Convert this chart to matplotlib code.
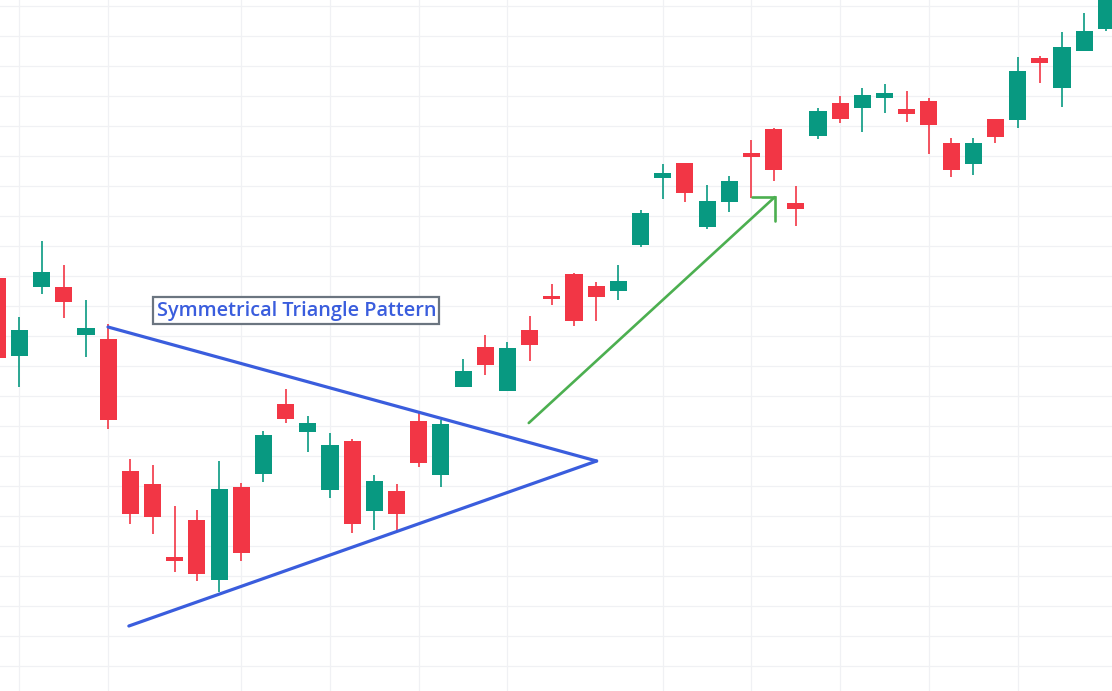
import matplotlib
matplotlib.use("Agg")
import matplotlib.pyplot as plt
import numpy as np

# Candle data (index, open, high, low, close)
idx = list(range(-1, 50))
opens = [139.3, 113.3, 136.3, 136.3, 120.3, 119.0, 75.0, 70.7, 46.3, 58.7,
         38.7, 69.7, 74.0, 97.3, 88.0, 68.7, 85.0, 61.7, 68.3, 91.7,
         73.7, 103.0, 116.3, 101.7, 122.0, 133.3, 140.7, 136.7, 135.0, 150.3,
         172.7, 177.7, 156.3, 164.7, 181.0, 189.0, 164.3, 186.7, 197.7, 196.0,
         199.3, 195.7, 198.3, 184.3, 177.3, 192.3, 192.0, 212.7, 202.7, 215.0,
         222.3]
highs = [139.3, 126.3, 151.7, 143.7, 132.0, 124.0, 79.0, 77.0, 63.3, 62.0,
         78.3, 71.0, 88.3, 102.3, 93.3, 87.7, 85.7, 73.7, 70.7, 94.3,
         92.0, 112.3, 120.3, 118.0, 126.7, 137.3, 141.0, 138.0, 143.7, 162.0,
         177.3, 177.7, 170.3, 173.3, 185.3, 189.3, 170.0, 196.0, 200.0, 202.7,
         204.0, 201.7, 199.3, 186.0, 186.0, 192.3, 213.0, 213.3, 221.3, 227.7,
         238.0]
lows = [112.7, 103.0, 134.0, 126.0, 113.0, 89.0, 57.3, 54.0, 41.3, 38.3,
        34.7, 45.0, 71.3, 91.0, 81.3, 66.0, 54.3, 55.3, 55.0, 76.3,
        69.7, 103.0, 107.0, 101.7, 111.7, 130.3, 123.3, 125.0, 132.0, 149.7,
        165.7, 164.7, 155.7, 161.3, 166.0, 171.7, 156.7, 185.7, 191.0, 188.0,
        194.3, 191.3, 180.7, 173.0, 173.7, 184.3, 189.3, 204.3, 196.3, 215.0,
        221.7]
closes = [112.7, 122.0, 141.3, 131.3, 122.7, 92.0, 60.7, 59.7, 45.0, 40.7,
          69.0, 47.7, 87.0, 92.3, 91.0, 83.7, 57.3, 71.7, 60.7, 77.7,
          90.7, 108.3, 110.3, 116.0, 117.0, 132.3, 125.0, 133.0, 138.3, 161.0,
          174.3, 167.7, 165.0, 171.7, 179.7, 175.3, 162.3, 195.0, 192.3, 200.3,
          201.0, 194.0, 190.3, 175.3, 184.3, 186.3, 208.3, 211.0, 216.3, 221.7,
          235.0]

# Grid positions
vgrid_idx = [0, 4, 10, 14, 18, 22, 29, 33, 37, 41, 45]
hgrid_vals = list(range(10, 240, 10))

# Pattern annotation points
tri_upper_x = [3.99, 26.02]
tri_upper_y = [123.0, 78.33]
tri_lower_x = [4.93, 26.02]
tri_lower_y = [23.33, 78.33]
arrow_x = [22.96, 34.05]
arrow_y = [91.0, 166.3]
arrow_head_x = [33.01, 34.05, 34.05]
arrow_head_y = [166.3, 166.3, 158.3]
label_text = "Symmetrical Triangle Pattern"
label_pos = (12.48, 128.5)

UP = "#089981"
DOWN = "#f23645"

fig = plt.figure(figsize=(11.12, 6.91), dpi=100)
ax = fig.add_axes([0, 0, 1, 1])
ax.set_xlim(-0.879, 49.255)
ax.set_ylim(1.667, 232.0)
for s in ax.spines.values():
    s.set_visible(False)
ax.set_xticks([])
ax.set_yticks([])

for v in hgrid_vals:
    ax.axhline(v, color="#f0f1f4", lw=0.9, zorder=0)
for v in vgrid_idx:
    ax.axvline(v, color="#f0f1f4", lw=0.9, zorder=0)

bw = 0.77
for i, o, h, l, c in zip(idx, opens, highs, lows, closes):
    col = UP if c >= o else DOWN
    ax.vlines(i, l, h, color=col, lw=1.2, zorder=2)
    lo, hi = min(o, c), max(o, c)
    ax.bar(i, max(hi - lo, 0.4), bottom=lo, width=bw, color=col,
           edgecolor=col, linewidth=0, zorder=3)

ax.plot(tri_upper_x, tri_upper_y, color="#3a5ddd", lw=2.3, zorder=4,
        solid_capstyle="round")
ax.plot(tri_lower_x, tri_lower_y, color="#3a5ddd", lw=2.3, zorder=4,
        solid_capstyle="round")
ax.plot(arrow_x, arrow_y, color="#4caf50", lw=1.9, zorder=4,
        solid_capstyle="round")
ax.plot(arrow_head_x, arrow_head_y, color="#4caf50", lw=1.9, zorder=4,
        solid_capstyle="round", solid_joinstyle="miter")

ax.text(label_pos[0], label_pos[1], label_text, ha="center", va="center",
        fontsize=14.3, fontweight="semibold", color="#3a5ddd",
        family=["Open Sans", "DejaVu Sans"],
        zorder=5,
        bbox=dict(boxstyle="square,pad=0.16", facecolor="white",
                  edgecolor="#6b7580", linewidth=1.6))

fig.savefig("out.png", dpi=100)
